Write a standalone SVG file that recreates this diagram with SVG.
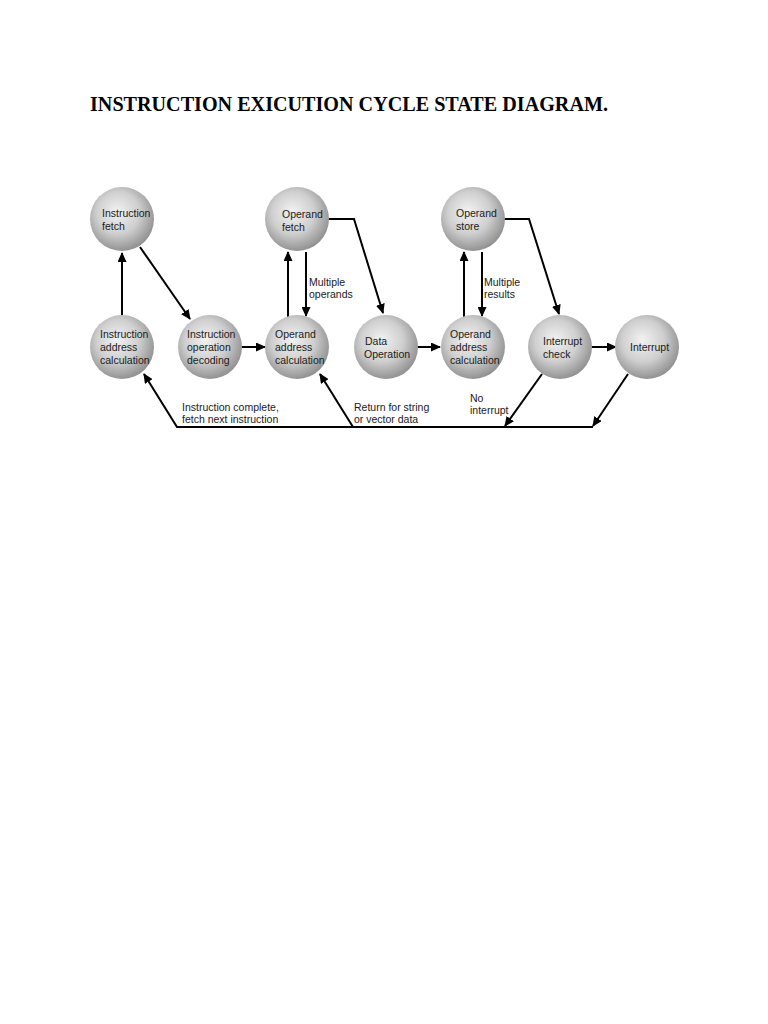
<svg xmlns="http://www.w3.org/2000/svg" width="768" height="1024" viewBox="0 0 768 1024">
<style>
.title{font-family:"Liberation Serif","Times New Roman",serif;font-weight:bold;font-size:20.5px;fill:#000}
.lbl{font-family:"Liberation Sans",Arial,sans-serif;font-size:10.5px;fill:#1a1a1a}
.node{fill:url(#ball)}
.con{fill:none;stroke:#000;stroke-width:2}
</style>
<defs>
<radialGradient id="ball" cx="0.45" cy="0.42" r="0.6" fx="0.42" fy="0.38">
<stop offset="0" stop-color="#f2f2f2"/>
<stop offset="0.55" stop-color="#cfcfcf"/>
<stop offset="1" stop-color="#8e8e8e"/>
</radialGradient>
<marker id="arr" markerUnits="userSpaceOnUse" markerWidth="10" markerHeight="9" refX="9" refY="4.5" orient="auto">
<path d="M0,0 L10,4.5 L0,9 z" fill="#000"/>
</marker>
</defs>
<rect width="768" height="1024" fill="#fff"/>
<text class="title" x="90" y="111" textLength="518" lengthAdjust="spacingAndGlyphs">INSTRUCTION EXICUTION CYCLE STATE DIAGRAM.</text>

<g id="connectors">
<path class="con" d="M122,315 L122,253" marker-end="url(#arr)"/>
<path class="con" d="M140,247 L190,319" marker-end="url(#arr)"/>
<path class="con" d="M241,347 L265,347" marker-end="url(#arr)"/>
<path class="con" d="M288,317 L288,252" marker-end="url(#arr)"/>
<path class="con" d="M306,252 L306,316" marker-end="url(#arr)"/>
<path class="con" d="M328,219 L354,219 L383,313" marker-end="url(#arr)"/>
<path class="con" d="M417,347 L440,347" marker-end="url(#arr)"/>
<path class="con" d="M464,317 L464,252" marker-end="url(#arr)"/>
<path class="con" d="M482,252 L482,316" marker-end="url(#arr)"/>
<path class="con" d="M504,219 L529,219 L559,314" marker-end="url(#arr)"/>
<path class="con" d="M591,347 L616,347" marker-end="url(#arr)"/>
<path class="con" d="M542,374 L505,426" marker-end="url(#arr)"/>
<path class="con" d="M628,374 L593,426" marker-end="url(#arr)"/>
<path class="con" d="M593,427 L177,427 L144,374" marker-end="url(#arr)"/>
<path class="con" d="M353,427 L320,374" marker-end="url(#arr)"/>
<text class="lbl" x="309" y="286">Multiple</text>
<text class="lbl" x="309" y="298">operands</text>
<text class="lbl" x="484" y="286">Multiple</text>
<text class="lbl" x="484" y="298">results</text>
<text class="lbl" x="470" y="402">No</text>
<text class="lbl" x="470" y="414">interrupt</text>
<text class="lbl" x="354" y="411">Return for string</text>
<text class="lbl" x="354" y="423">or vector data</text>
<text class="lbl" x="182" y="411">Instruction complete,</text>
<text class="lbl" x="182" y="423">fetch next instruction</text>
</g>

<g id="instruction-fetch">
<circle class="node" cx="122" cy="219" r="32"/>
<text class="lbl" x="102" y="217">Instruction</text>
<text class="lbl" x="102" y="230">fetch</text>
</g>
<g id="operand-fetch">
<circle class="node" cx="297" cy="219" r="32"/>
<text class="lbl" x="282" y="218">Operand</text>
<text class="lbl" x="282" y="231">fetch</text>
</g>
<g id="operand-store">
<circle class="node" cx="473" cy="219" r="32"/>
<text class="lbl" x="456" y="217">Operand</text>
<text class="lbl" x="456" y="230">store</text>
</g>
<g id="instruction-address-calculation">
<circle class="node" cx="122" cy="347" r="32"/>
<text class="lbl" x="100" y="338">Instruction</text>
<text class="lbl" x="100" y="351">address</text>
<text class="lbl" x="100" y="364">calculation</text>
</g>
<g id="instruction-operation-decoding">
<circle class="node" cx="210" cy="347" r="32"/>
<text class="lbl" x="187" y="338">Instruction</text>
<text class="lbl" x="187" y="351">operation</text>
<text class="lbl" x="187" y="364">decoding</text>
</g>
<g id="operand-address-calculation-1">
<circle class="node" cx="297" cy="347" r="32"/>
<text class="lbl" x="275" y="338">Operand</text>
<text class="lbl" x="275" y="351">address</text>
<text class="lbl" x="275" y="364">calculation</text>
</g>
<g id="data-operation">
<circle class="node" cx="386" cy="347" r="32"/>
<text class="lbl" x="365" y="345">Data</text>
<text class="lbl" x="364" y="358">Operation</text>
</g>
<g id="operand-address-calculation-2">
<circle class="node" cx="473" cy="347" r="32"/>
<text class="lbl" x="450" y="338">Operand</text>
<text class="lbl" x="450" y="351">address</text>
<text class="lbl" x="450" y="364">calculation</text>
</g>
<g id="interrupt-check">
<circle class="node" cx="560" cy="347" r="32"/>
<text class="lbl" x="543" y="345">Interrupt</text>
<text class="lbl" x="543" y="358">check</text>
</g>
<g id="interrupt">
<circle class="node" cx="647" cy="347" r="32"/>
<text class="lbl" x="630" y="351">Interrupt</text>
</g>
</svg>
